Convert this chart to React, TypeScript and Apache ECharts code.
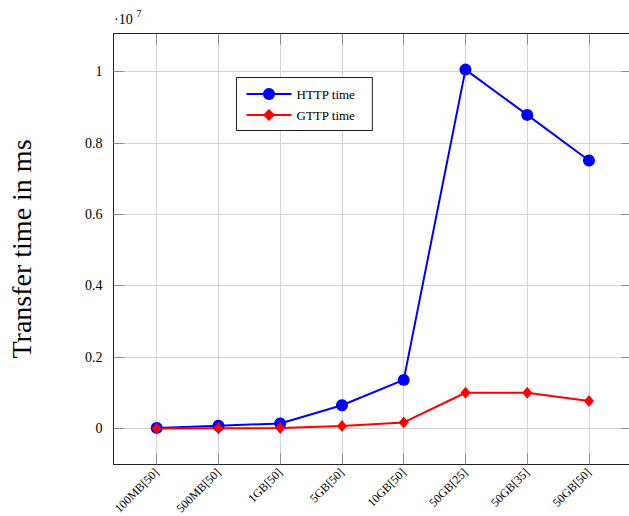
import React, { useEffect, useRef } from "react";
import * as echarts from "echarts";

const categories = ["100MB[50]", "500MB[50]", "1GB[50]", "5GB[50]", "10GB[50]", "50GB[25]", "50GB[35]", "50GB[50]"];
const httpTime = [15000, 73000, 140000, 650000, 1360000, 10060000, 8790000, 7510000];
const gttpTime = [0, 5000, 10000, 65000, 168000, 1000000, 1000000, 770000];
const yTicks = [0, 2000000, 4000000, 6000000, 8000000, 10000000];
const xTicks = categories.map((_, i) => i);

const SERIF = "'Liberation Serif', 'Times New Roman', serif";
const NUMFONT = "'Liberation Serif', serif";

export default function App() {
  const ref = useRef<HTMLDivElement>(null);
  useEffect(() => {
    if (!ref.current) return;
    const chart = echarts.init(ref.current, undefined, { renderer: "svg" });
    const gridColor = "#d4d4d4";
    const tickColor = "#8c8c8c";
    const axisLine = { show: true, onZero: false, lineStyle: { color: "#222", width: 1 } };
    const xCommon = {
      type: "value" as const,
      min: -0.7,
      max: 7.7,
      axisLine,
      axisTick: { show: true, inside: true, length: 11, customValues: xTicks, lineStyle: { color: tickColor, width: 1 } },
    };
    const yCommon = {
      type: "value" as const,
      min: -1006000,
      max: 11066000,
      axisLine,
      axisTick: { show: true, inside: true, length: 11, customValues: yTicks, lineStyle: { color: tickColor, width: 1 } },
    };
    chart.setOption({
      animation: false,
      backgroundColor: "#fff",
      grid: { left: 113.5, right: 7.8, top: 33.7, bottom: 51.7, containLabel: false, outerBoundsMode: "none" },
      legend: {
        orient: "vertical",
        left: 236.5,
        top: 77.5,
        padding: [10, 17, 9, 9],
        itemWidth: 45,
        itemHeight: 15,
        itemGap: 8,
        backgroundColor: "#fff",
        borderColor: "#222",
        borderWidth: 1,
        borderRadius: 0,
        textStyle: { fontFamily: SERIF, fontSize: 13, color: "#000" },
        data: ["HTTP time", "GTTP time"],
      },
      xAxis: [
        {
          ...xCommon,
          position: "bottom",
          axisLabel: {
            show: true,
            customValues: xTicks,
            rotate: 45,
            margin: 6,
            fontFamily: SERIF,
            fontSize: 12,
            color: "#000",
            formatter: (v: number) => categories[Math.round(v)] ?? "",
          },
          splitLine: { show: true, lineStyle: { color: gridColor, width: 1 } },
        },
        {
          ...xCommon,
          position: "top",
          axisLabel: { show: false },
          splitLine: { show: false },
        },
      ],
      yAxis: [
        {
          ...yCommon,
          position: "left",
          name: "Transfer time in ms",
          nameLocation: "middle",
          nameGap: 78,
          nameTextStyle: { fontFamily: SERIF, fontSize: 28, color: "#000" },
          axisLabel: {
            show: true,
            customValues: yTicks,
            margin: 11,
            fontFamily: NUMFONT,
            fontSize: 14,
            color: "#000",
            formatter: (v: number) => String(v / 1e7),
          },
          splitLine: { show: true, lineStyle: { color: gridColor, width: 1 } },
        },
        {
          ...yCommon,
          position: "right",
          axisLabel: { show: false },
          splitLine: { show: false },
        },
      ],
      graphic: [
        {
          type: "text",
          left: 114,
          top: 12,
          style: { text: "·10", fontFamily: NUMFONT, fontSize: 14, fill: "#000" },
        },
        {
          type: "text",
          left: 136.5,
          top: 8,
          style: { text: "7", fontFamily: NUMFONT, fontSize: 10, fill: "#000" },
        },
      ],
      series: [
        {
          name: "HTTP time",
          type: "line",
          xAxisIndex: 0,
          yAxisIndex: 0,
          data: httpTime.map((v, i) => [i, v]),
          symbol: "circle",
          symbolSize: 12,
          color: "#0000ff",
          itemStyle: { color: "#0000ff" },
          lineStyle: { color: "#0000ff", width: 2 },
        },
        {
          name: "GTTP time",
          type: "line",
          xAxisIndex: 0,
          yAxisIndex: 0,
          data: gttpTime.map((v, i) => [i, v]),
          symbol: "diamond",
          symbolSize: [10, 12],
          color: "#ff0000",
          itemStyle: { color: "#ff0000" },
          lineStyle: { color: "#ff0000", width: 2 },
        },
      ],
    });
    return () => chart.dispose();
  }, []);
  return (
    <div style={{ position: "fixed", left: 0, top: 0, width: 629, height: 516, overflow: "hidden", background: "#fff" }}>
      <div ref={ref} style={{ width: 640, height: 516 }} />
    </div>
  );
}
